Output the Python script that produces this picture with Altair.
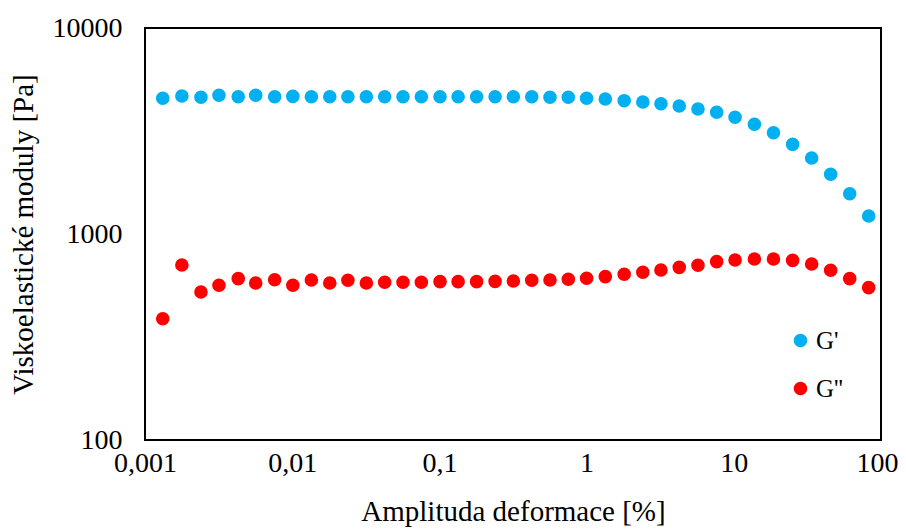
import altair as alt
import pandas as pd

# Strain amplitude [%]
amplituda = [0.00132, 0.00178, 0.00240, 0.00318, 0.00430, 0.00565, 0.00760,
             0.0101, 0.0135, 0.0180, 0.0239, 0.0319, 0.0425, 0.0566, 0.0754,
             0.101, 0.134, 0.179, 0.239, 0.318, 0.424, 0.564, 0.751,
             1.00, 1.34, 1.80, 2.41, 3.20, 4.26, 5.71, 7.65,
             10.2, 13.8, 18.6, 25.1, 33.8, 45.5, 61.3, 82.5]

# Storage modulus G' [Pa]
g_storage = [4557, 4677, 4609, 4713, 4640, 4713, 4640, 4655, 4640, 4640,
             4640, 4640, 4640, 4640, 4640, 4640, 4640, 4640, 4640, 4640,
             4640, 4609, 4609, 4557, 4522, 4438, 4374, 4291, 4183, 4045,
             3898, 3686, 3408, 3102, 2725, 2339, 1949, 1569, 1223]

# Loss modulus G'' [Pa]
g_loss = [388, 707, 523, 564, 607, 578, 600, 564, 598, 578,
          596, 578, 583, 583, 583, 587, 587, 587, 589, 591,
          596, 598, 603, 610, 621, 638, 652, 669, 689, 705,
          734, 748, 756, 756, 745, 715, 667, 607, 549]

series_names = ["G'", "G''"]
series_colors = ["#00B0F0", "#FF0000"]

x_ticks = [0.001, 0.01, 0.1, 1, 10, 100]
y_ticks = [100, 1000, 10000]

rows = []
for name, vals in zip(series_names, [g_storage, g_loss]):
    for a, v in zip(amplituda, vals):
        rows.append({"amp": a, "val": v, "serie": name})
df = pd.DataFrame(rows)

FONT = "Liberation Serif"

chart = alt.Chart(df).mark_circle(size=185, opacity=1).encode(
    x=alt.X("amp:Q",
            scale=alt.Scale(type="log", domain=[0.001, 100], nice=False),
            axis=alt.Axis(values=x_ticks, title="Amplituda deformace [%]",
                          labelExpr="replace(format(datum.value, '~g'), '.', ',')",
                          grid=False, ticks=False, domain=False,
                          labelFlush=False, labelOverlap=False,
                          labelOffset={"condition": {"test": "datum.value >= 100", "value": -4},
                                       "value": 0},
                          labelPadding=9, titlePadding=20)),
    y=alt.Y("val:Q",
            scale=alt.Scale(type="log", domain=[100, 10000], nice=False),
            axis=alt.Axis(values=y_ticks, format="d", title="Viskoelastické moduly [Pa]",
                          grid=False, ticks=False, domain=False,
                          labelFlush=False, labelOverlap=False,
                          labelPadding=23, titlePadding=14)),
    color=alt.Color("serie:N",
                    scale=alt.Scale(domain=series_names, range=series_colors),
                    legend=alt.Legend(title=None, orient="none",
                                      legendX=643, legendY=300,
                                      symbolType="circle", symbolSize=185,
                                      symbolStrokeWidth=0,
                                      labelFont=FONT, labelFontSize=25,
                                      labelColor="#000", labelOffset=3,
                                      rowPadding=22, padding=0)),
    order=alt.Order("serie:N", sort="ascending"),
).properties(
    width=736, height=412,
    autosize=alt.AutoSizeParams(type="none"),
    padding={"left": 137, "top": 20, "right": 17, "bottom": 91},
).configure(
    background="white"
).configure_view(
    stroke="#000", strokeWidth=2
).configure_axis(
    labelFont=FONT, labelFontSize=28, labelColor="#000",
    titleFont=FONT, titleFontSize=29, titleColor="#000", titleFontWeight="normal",
)

chart.save("out.html", embed_options={"renderer": "svg", "actions": False})
